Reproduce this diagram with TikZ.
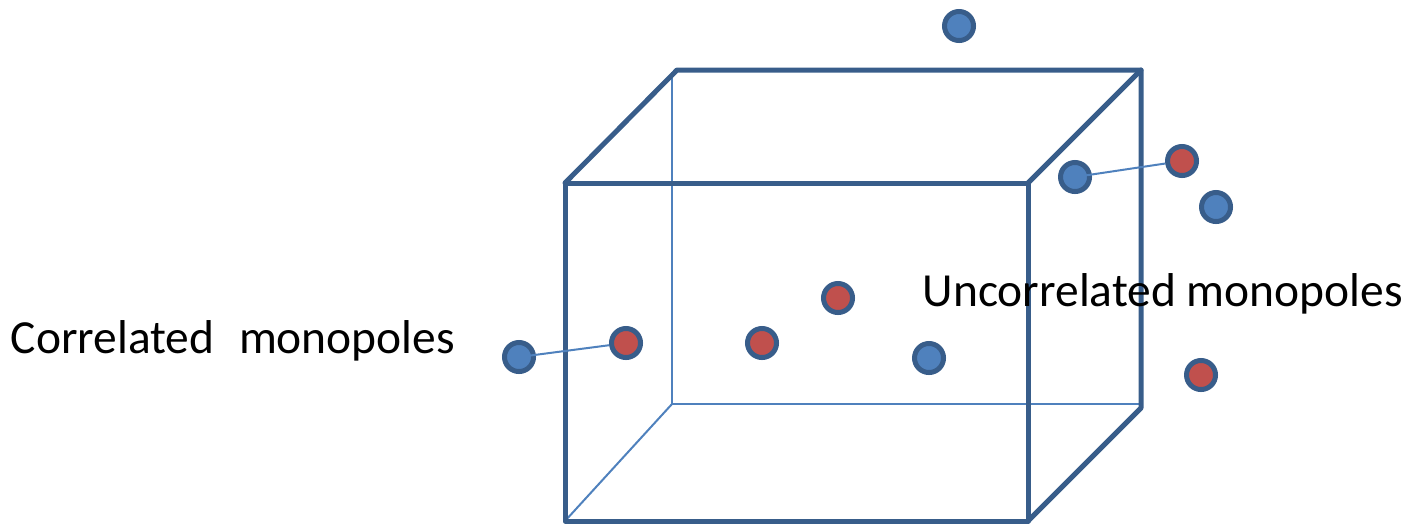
\documentclass[tikz,border=0pt]{standalone}
\usepackage{fontspec}
\setmainfont{Carlito}
\definecolor{edgeblue}{HTML}{385D8A}
\definecolor{fillblue}{HTML}{4F81BD}
\definecolor{fillred}{HTML}{C0504D}
\begin{document}
\begin{tikzpicture}[
    x=0.01cm,y=-0.01cm,
    thickedge/.style={draw=edgeblue,line width=0.05cm,line join=round,line cap=round},
    thinedge/.style={draw=fillblue,line width=0.02cm},
    pole/.style={circle,draw=edgeblue,line width=0.05cm,minimum size=0.29cm,inner sep=0pt},
    bluepole/.style={pole,fill=fillblue},
    redpole/.style={pole,fill=fillred},
    label/.style={font=\fontsize{13.5}{16}\selectfont,inner sep=0pt,anchor=base west}
    ]
    \useasboundingbox (0,0) rectangle (1410,527);

    % corners of the box
    \coordinate (f1) at (565,183);
    \coordinate (f2) at (1028,183);
    \coordinate (f3) at (1028,521);
    \coordinate (f4) at (565,521);
    \coordinate (b1) at (677,70);
    \coordinate (b2) at (1141,70);
    \coordinate (b3) at (1141,408);
    \coordinate (h1) at (672,72);
    \coordinate (h2) at (672,404);
    \coordinate (h3) at (1141,404);

    % hidden edges
    \draw[thinedge] (h1) -- (h2) -- (h3);
    \draw[thinedge] (f4) -- (h2);
    % visible edges
    \draw[thickedge] (f1) -- (f2) -- (f3) -- (f4) -- cycle;
    \draw[thickedge] (f1) -- (b1) -- (b2) -- (b3) -- (f3);
    \draw[thickedge] (f2) -- (b2);

    \node[label] (corr) at (10,353) {Correlated\hspace{0.14cm}\ monopoles};
    \node[label] (uncorr) at (922,306) {Uncorrelated monopoles};

    % monopoles
    \node[bluepole] (top) at (959,26) {};
    \node[bluepole] (u1) at (1075,177) {};
    \node[redpole] (u2) at (1182,161) {};
    \node[bluepole] (u3) at (1216,207) {};
    \node[redpole] (m1) at (838,298) {};
    \node[bluepole] (m2) at (929,358) {};
    \node[redpole] (m3) at (762,343) {};
    \node[redpole] (r1) at (1201,375) {};
    \node[bluepole] (c1) at (519,357) {};
    \node[redpole] (c2) at (626,343) {};

    \draw[thinedge] (c1.center) -- (c2);
    \draw[thinedge] (u1.center) -- (u2);
  \end{tikzpicture}
\end{document}
